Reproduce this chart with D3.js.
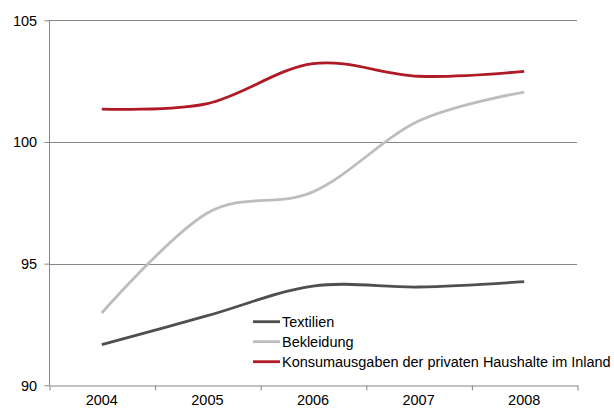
<!DOCTYPE html>
<html>
<head>
<meta charset="utf-8">
<script src="https://cdn.jsdelivr.net/npm/d3@7"></script>
<style>
  html, body { margin: 0; padding: 0; background: #fff; }
  svg { display: block; }
  text { font-family: "Liberation Sans", Arial, sans-serif; fill: #000; }
</style>
</head>
<body>
<svg id="chart" width="614" height="414"></svg>
<script>
// ---- data ----
const years = [2004, 2005, 2006, 2007, 2008];
const yTicks = [90, 95, 100, 105];
const textilien = [91.67, 92.86, 94.08, 94.04, 94.26];
const bekleidung = [92.97, 97.08, 97.95, 100.86, 102.05];
const konsum = [101.35, 101.58, 103.22, 102.70, 102.90];
const seriesNames = ["Textilien", "Bekleidung", "Konsumausgaben der privaten Haushalte im Inland"];
const seriesColors = ["#4f4f51", "#bdbdbd", "#b01a26"];

const series = [textilien, bekleidung, konsum].map((vals, i) => ({
  name: seriesNames[i], color: seriesColors[i],
  values: vals.map((v, j) => ({ year: years[j], value: v }))
}));

// ---- layout ----
const plotLeft = 49, plotRight = 577, plotTop = 20.3, plotBottom = 385.3;
const svg = d3.select("#chart");
const sx = 0.965; // horizontal text compression to match reference

const x = d3.scaleBand().domain(years).range([plotLeft, plotRight]).padding(0);
const xc = d => x(d) + x.bandwidth() / 2;
const y = d3.scaleLinear().domain([90, 105]).range([plotBottom, plotTop]);

// gridlines
svg.append("g").selectAll("line").data(yTicks.filter(t => t !== 90)).join("line")
  .attr("x1", plotLeft).attr("x2", plotRight)
  .attr("y1", d => Math.round(y(d)) + 0.5).attr("y2", d => Math.round(y(d)) + 0.5)
  .attr("stroke", "#868686").attr("stroke-width", 1);

// y axis
const yAxis = svg.append("g").attr("transform", `translate(${plotLeft + 0.5},0)`)
  .call(d3.axisLeft(y).tickValues(yTicks).tickSize(5).tickFormat(""));
yAxis.selectAll("path,line").attr("stroke", "#868686");
yAxis.select(".domain").attr("d", `M0,${y(105)}V${y(90)}`);

svg.append("g").selectAll("text").data(yTicks).join("text")
  .attr("transform", d => `translate(37,${y(d) + 5.4}) scale(${sx},1)`)
  .attr("text-anchor", "end").style("font-size", "15px")
  .text(d => d);

// x axis
const boundaries = years.map(d => x(d)).concat([plotRight]);
const xLin = d3.scaleLinear().domain([plotLeft, plotRight]).range([plotLeft, plotRight]);
const xAxis = svg.append("g").attr("transform", `translate(0.5,${Math.round(plotBottom) + 0.5})`)
  .call(d3.axisBottom(xLin).tickValues(boundaries).tickSize(5).tickSizeOuter(0).tickFormat(""));
xAxis.selectAll("path,line").attr("stroke", "#868686");

svg.append("g").selectAll("text").data(years).join("text")
  .attr("transform", d => `translate(${xc(d)},404.5) scale(${sx},1)`)
  .attr("text-anchor", "middle").style("font-size", "15px")
  .text(d => d);

// lines
const line = d3.line().x(d => xc(d.year)).y(d => y(d.value))
  .curve(d3.curveCardinal.tension(0));
svg.append("g").selectAll("path").data(series).join("path")
  .attr("d", d => line(d.values))
  .attr("fill", "none")
  .attr("stroke", d => d.color)
  .attr("stroke-width", 2.8)
  .attr("stroke-linejoin", "round");

// legend
const lg = svg.append("g").selectAll("g").data(series).join("g")
  .attr("transform", (d, i) => `translate(253,${321.7 + i * 20})`);
lg.append("line").attr("x1", 0).attr("x2", 27).attr("y1", 0).attr("y2", 0)
  .attr("stroke", d => d.color).attr("stroke-width", 2.8);
lg.append("text")
  .attr("transform", `translate(29,5.4) scale(${sx},1)`)
  .style("font-size", "15px")
  .text(d => d.name);
</script>
</body>
</html>
